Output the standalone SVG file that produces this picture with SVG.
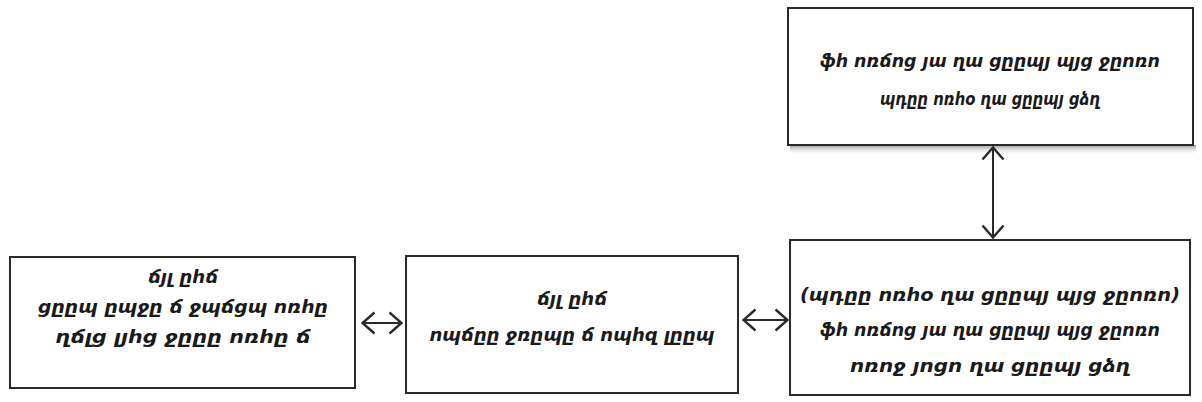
<svg xmlns="http://www.w3.org/2000/svg" width="1202" height="402" viewBox="0 0 1202 402">
<style>
.box{fill:#fff;stroke:#2a2a2a;stroke-width:2}
.t{font-family:"DejaVu Sans",sans-serif;font-size:17px;font-style:italic;font-weight:bold;fill:#1a1a1a;text-anchor:middle}
.c{stroke:#2a2a2a;stroke-width:2;fill:none}
</style>
<defs>
<marker id="h" viewBox="0 0 15 24" refX="14" refY="12" markerWidth="15" markerHeight="24" markerUnits="userSpaceOnUse" orient="auto-start-reverse">
<path d="M1.5,1.5 L13.5,12 L1.5,22.5" fill="none" stroke="#2a2a2a" stroke-width="2.4"/>
</marker>
<linearGradient id="sh" x1="0" y1="0" x2="0" y2="1">
<stop offset="0" stop-color="#9a9a9a"/>
<stop offset="1" stop-color="#ffffff" stop-opacity="0"/>
</linearGradient>
</defs>
<rect x="790" y="145" width="406" height="10" fill="url(#sh)"/>
<g id="node-top">
<rect class="box" x="788" y="8" width="405" height="137"/>
<text class="t" x="990" y="67" textLength="340" lengthAdjust="spacingAndGlyphs">ֆհ ոռճոց յա ղա ցըըպյ պյց ջըոռո</text>
<text class="t" x="990" y="105" textLength="220" lengthAdjust="spacingAndGlyphs">պդըը ոռհօ ղա ցըըպյ ցձղ</text>
</g>
<g id="node-right">
<rect class="box" x="790" y="240" width="400" height="155"/>
<text class="t" x="990" y="301" textLength="380" lengthAdjust="spacingAndGlyphs">(պդըը ոռհօ ղա ցըըպյ պյց ջըոռո)</text>
<text class="t" x="990" y="336" textLength="340" lengthAdjust="spacingAndGlyphs">ֆհ ոռճոց յա ղա ցըըպյ պյց ջըոռո</text>
<text class="t" x="990" y="372" textLength="280" lengthAdjust="spacingAndGlyphs">ոռոջ յոցո ղա ցըըպյ ցձղ</text>
</g>
<g id="node-middle">
<rect class="box" x="406" y="256" width="332" height="137"/>
<text class="t" x="572" y="305" textLength="70" lengthAdjust="spacingAndGlyphs">ճյլ ըհճ</text>
<text class="t" x="572" y="341" textLength="285" lengthAdjust="spacingAndGlyphs">ոպճըը ջռըպը ճ ոպհզ լըըպ</text>
</g>
<g id="node-left">
<rect class="box" x="10" y="257" width="345" height="131"/>
<text class="t" x="183" y="283" textLength="70" lengthAdjust="spacingAndGlyphs">ճյլ ըհճ</text>
<text class="t" x="183" y="313" textLength="290" lengthAdjust="spacingAndGlyphs">ցըըպ ըպջը ճ ջպճցպ ոռհը</text>
<text class="t" x="183" y="343" textLength="255" lengthAdjust="spacingAndGlyphs">ղճլց լյհց ջըըը ոռհը ճ</text>
</g>
<g id="connectors">
<line class="c" x1="362" y1="323" x2="402" y2="323" marker-start="url(#h)" marker-end="url(#h)"/>
<line class="c" x1="743" y1="320" x2="788" y2="320" marker-start="url(#h)" marker-end="url(#h)"/>
<line class="c" x1="993" y1="147" x2="993" y2="238" marker-start="url(#h)" marker-end="url(#h)"/>
</g>
</svg>
